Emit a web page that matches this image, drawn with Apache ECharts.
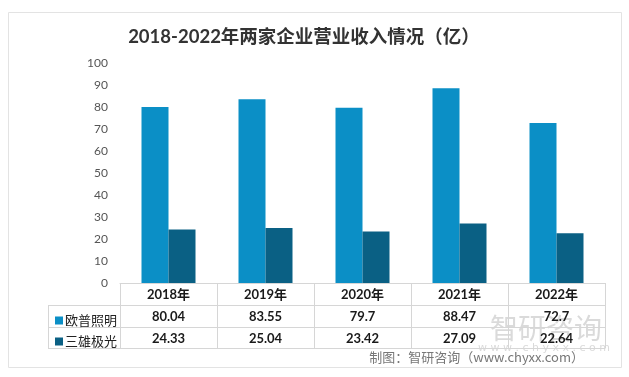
<!DOCTYPE html>
<html><head><meta charset="utf-8">
<script src="https://cdn.jsdelivr.net/npm/echarts@6/dist/echarts.min.js"></script>
<style>html,body{margin:0;padding:0;background:#fff}#c{width:629px;height:377px}</style>
</head><body><div id="c"></div>
<script>
const years = ['2018', '2019', '2020', '2021', '2022'];
const seriesNames = ['欧普照明', '三雄极光'];
const opple = [80.04, 83.55, 79.7, 88.47, 72.7];
const nvc = [24.33, 25.04, 23.42, 27.09, 22.64];
const yTicks = {min: 0, max: 100, interval: 10};
const titleText = '2018-2022年两家企业营业收入情况（亿）';
const sourceText = '制图：智研咨询（www.chyxx.com）';

const colors = ['#0b8fc6', '#0a6084'];
const lineColor = '#d6d6d6';
const chart = echarts.init(document.getElementById('c'));
const valueLabel = {fontFamily: 'Lato', fontWeight: 'bold', fontSize: 13, color: '#1a1a1a', margin: 5, interval: 0};
function fmt(v){ return String(v); }

chart.setOption({
  animation: false,
  backgroundColor: '#fff',
  title: {
    text: titleText, left: 299, top: 23, textAlign: 'center',
    textStyle: {fontFamily: 'Lato, "Noto Sans CJK SC"', fontWeight: 'bold', fontSize: 18.5, color: '#333'}
  },
  legend: {
    data: seriesNames, orient: 'vertical', left: 50, top: 309, itemGap: 8,
    itemWidth: 8, itemHeight: 8, icon: 'rect',
    textStyle: {fontFamily: '"Noto Sans CJK SC"', fontSize: 13, color: '#222', padding: [0,0,0,-3]}
  },
  grid: {left: 120, right: 24, top: 63, bottom: 94},
  xAxis: [
    {type: 'category', data: years, position: 'bottom', offset: 0,
     axisLine: {show: true, lineStyle: {color: lineColor}},
     axisTick: {show: true, length: 65, interval: 0, lineStyle: {color: lineColor}},
     axisLabel: {fontFamily: 'Lato, "Noto Sans CJK SC"', fontWeight: 'bold', fontSize: 13, color: '#1a1a1a', margin: 5, interval: 0,
       formatter: v => v + '年'}},
    {type: 'category', data: opple.map(fmt), position: 'bottom', offset: 22,
     axisLine: {show: true, lineStyle: {color: lineColor}}, axisTick: {show: false}, axisLabel: valueLabel},
    {type: 'category', data: nvc.map(fmt), position: 'bottom', offset: 44,
     axisLine: {show: true, lineStyle: {color: lineColor}}, axisTick: {show: false}, axisLabel: valueLabel},
    {type: 'category', data: years, position: 'bottom', offset: 65,
     axisLine: {show: true, lineStyle: {color: lineColor}}, axisTick: {show: false}, axisLabel: {show: false}}
  ],
  yAxis: {
    type: 'value', min: yTicks.min, max: yTicks.max, interval: yTicks.interval,
    axisLine: {show: false}, axisTick: {show: false}, splitLine: {show: false},
    axisLabel: {fontFamily: 'Lato', fontSize: 12, color: '#555', margin: 12}
  },
  series: [
    {name: seriesNames[0], type: 'bar', data: opple, barWidth: 27, barGap: '0%', itemStyle: {color: colors[0]}},
    {name: seriesNames[1], type: 'bar', data: nvc, barWidth: 27, barGap: '0%', itemStyle: {color: colors[1]}}
  ],
  graphic: [
    {type: 'rect', shape: {x: 8.5, y: 12.5, width: 613, height: 355}, style: {fill: 'none', stroke: '#e3e3e3', lineWidth: 1}, z: -1},
    {type: 'line', shape: {x1: 48, y1: 305.5, x2: 120, y2: 305.5}, style: {stroke: lineColor}},
    {type: 'line', shape: {x1: 48, y1: 327.5, x2: 120, y2: 327.5}, style: {stroke: lineColor}},
    {type: 'line', shape: {x1: 48, y1: 348.5, x2: 120, y2: 348.5}, style: {stroke: lineColor}},
    {type: 'line', shape: {x1: 48.5, y1: 305, x2: 48.5, y2: 349}, style: {stroke: lineColor}},
    {type: 'text', left: 490, top: 314, z: 0, style: {text: '智研咨询', fill: 'rgba(150,150,150,0.35)', font: '28px "Noto Sans CJK SC"'}},
    {type: 'text', left: 478, top: 343, z: 0, style: {text: 'w w w . c h y x x . c o m', fill: 'rgba(150,150,150,0.35)', font: '11px "DejaVu Sans"'}},
    {type: 'text', right: 45, top: 351, style: {text: sourceText, fill: '#777', font: '13px "Noto Sans CJK SC"'}}
  ]
});
</script></body></html>
